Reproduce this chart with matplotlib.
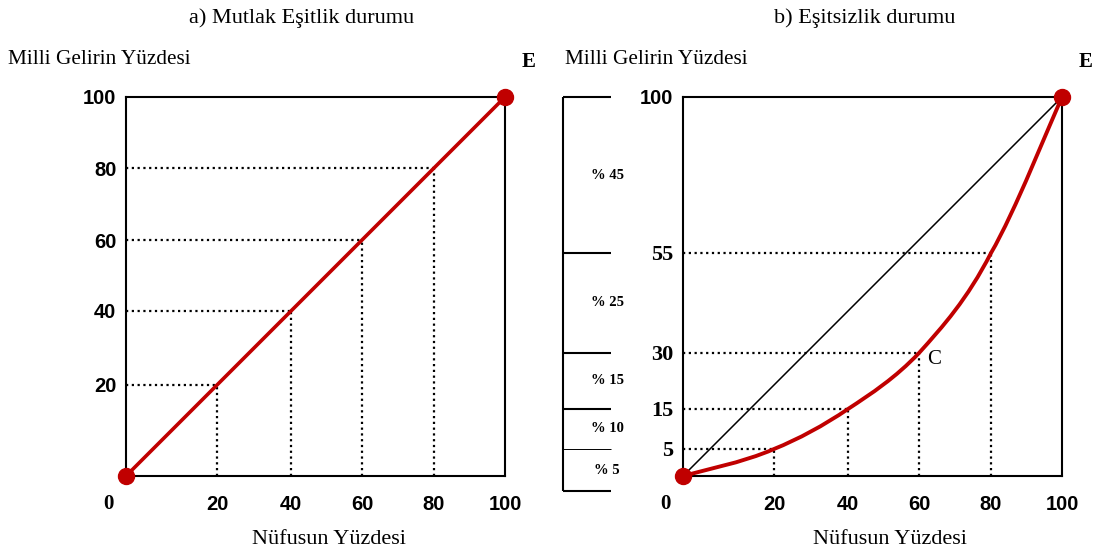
import numpy as np
import matplotlib.pyplot as plt
from matplotlib.path import Path
from matplotlib.patches import PathPatch

# data
population = [0, 20, 40, 60, 80, 100]
equal_income = [0, 20, 40, 60, 80, 100]
lorenz_income = [0, 5, 15, 30, 55, 100]
group_shares = [45, 25, 15, 10, 5]
share_labels = ["% 45", "% 25", "% 15", "% 10", "% 5"]

left_title = "a) Mutlak Eşitlik durumu"
right_title = "b) Eşitsizlik durumu"
y_title = "Milli Gelirin Yüzdesi"
x_title = "Nüfusun Yüzdesi"

RED = "#C00000"
SERIF = ["Liberation Serif", "DejaVu Serif"]
SANS = ["Liberation Sans", "DejaVu Sans"]
W, H = 1099, 557

# the source sketch is not drawn to scale: pixel offset (of 379) of each grid value
grid_px_pop = [0, 91, 165, 236, 308, 379]
grid_px_lorenz = [0, 27, 67, 123, 223, 379]
grid_px_bracket = [0, 42, 82, 138, 238, 394]

dotted = dict(color="black", lw=1.6, linestyle=(0, (1, 1.6)),
              dash_capstyle="butt", zorder=2)


def sketch_scale(values, px):
    values = np.asarray(values, float)
    px = np.asarray(px, float)
    return (lambda v: np.interp(v, values, px),
            lambda p: np.interp(p, px, values))


def fig_xy(x, y):
    return x / W, 1 - y / H


def smooth_path(xs, ys):
    # catmull-rom through the points, as cubic bezier segments
    pts = np.column_stack([xs, ys]).astype(float)
    ext = np.vstack([pts[0], pts, pts[-1]])
    verts = [pts[0]]
    codes = [Path.MOVETO]
    for i in range(len(pts) - 1):
        p0, p1, p2, p3 = ext[i], ext[i + 1], ext[i + 2], ext[i + 3]
        verts += [p1 + (p2 - p0) / 6, p2 - (p3 - p1) / 6, p2]
        codes += [Path.CURVE4] * 3
    return Path(verts, codes)


def setup_panel(ax, yvals, ypx, ylabels_fonts):
    ax.set_xscale("function", functions=sketch_scale(population, grid_px_pop))
    ax.set_yscale("function", functions=sketch_scale(yvals, ypx))
    ax.set_xlim(0, 100)
    ax.set_ylim(0, 100)
    for s in ax.spines.values():
        s.set_linewidth(1.5)
    ax.tick_params(length=0)
    ax.tick_params(axis="x", pad=14)
    ax.tick_params(axis="y", pad=7)
    ax.set_xticks(population[1:])
    ax.set_xticklabels([str(v) for v in population[1:]],
                       fontfamily=SANS, fontweight="bold", fontsize=14.5)
    ax.set_yticks(yvals[1:])
    ax.set_yticklabels([str(v) for v in yvals[1:]], fontweight="bold")
    for lab, fam in zip(ax.get_yticklabels(), ylabels_fonts):
        lab.set_fontfamily(fam)
        lab.set_fontsize(14.5 if fam is SANS else 16)
    # corner zero
    ax.annotate("0", (0, 0), xytext=(-18, -28), textcoords="offset pixels",
                ha="center", va="center", fontfamily=SERIF,
                fontweight="bold", fontsize=15, annotation_clip=False)
    ax.annotate("E", (100, 100), xytext=(24, 35), textcoords="offset pixels",
                ha="center", va="center", fontfamily=SERIF,
                fontweight="bold", fontsize=15, annotation_clip=False)


fig = plt.figure(figsize=(W / 100, H / 100), dpi=100)

# a) equality
ax1 = fig.add_axes([126 / W, (H - 476) / H, 379 / W, 379 / H])
setup_panel(ax1, equal_income, grid_px_pop, [SANS] * 5)
for x, y in zip(population[1:-1], equal_income[1:-1]):
    ax1.plot([0, x], [y, y], **dotted)
    ax1.plot([x, x], [0, y], **dotted)
ax1.plot(population, equal_income, color=RED, lw=2.6, zorder=3)
ax1.plot([population[0], population[-1]], [equal_income[0], equal_income[-1]],
         "o", color=RED, ms=11.5, clip_on=False, zorder=4)

# b) inequality
ax2 = fig.add_axes([683 / W, (H - 476) / H, 379 / W, 379 / H])
setup_panel(ax2, lorenz_income, grid_px_lorenz, [SERIF] * 4 + [SANS])
for x, y in zip(population[1:-1], lorenz_income[1:-1]):
    ax2.plot([0, x], [y, y], **dotted)
    ax2.plot([x, x], [0, y], **dotted)
ax2.plot([population[0], population[-1]], [equal_income[0], equal_income[-1]],
         color="black", lw=1.1, zorder=3)
ax2.add_patch(PathPatch(smooth_path(population, lorenz_income),
                        facecolor="none", edgecolor=RED, lw=2.8, zorder=3))
ax2.plot([population[0], population[-1]], [lorenz_income[0], lorenz_income[-1]],
         "o", color=RED, ms=11.5, clip_on=False, zorder=4)
ax2.annotate("C", (population[3], lorenz_income[3]), xytext=(15, -7),
             textcoords="offset pixels", ha="center", va="center",
             fontfamily=SERIF, fontsize=15)

# income share bracket
ax3 = fig.add_axes([563 / W, (H - 491) / H, 48 / W, 394 / H])
ax3.set_yscale("function", functions=sketch_scale(lorenz_income, grid_px_bracket))
ax3.set_xlim(0, 1)
ax3.set_ylim(0, 100)
ax3.axis("off")
bounds = 100 - np.concatenate([[0], np.cumsum(group_shares)])
ax3.plot([0, 0], [bounds[0], bounds[-1]], color="black", lw=1.5,
         clip_on=False, solid_capstyle="butt")
for b in bounds:
    lw = 0.7 if b == group_shares[-1] else 1.5
    ax3.plot([0, 1], [b, b], color="black", lw=lw, clip_on=False,
             solid_capstyle="butt")
for top, bot, lab in zip(bounds[:-1], bounds[1:], share_labels):
    ax3.text(0.92, (top + bot) / 2, lab, ha="center", va="center",
             fontfamily=SERIF, fontweight="bold", fontsize=10.5)

# titles and axis captions
fig.text(*fig_xy(302, 18), left_title, ha="center", va="center",
         fontfamily=SERIF, fontsize=16)
fig.text(*fig_xy(865, 18), right_title, ha="center", va="center",
         fontfamily=SERIF, fontsize=16)
fig.text(*fig_xy(8, 60), y_title, ha="left", va="center",
         fontfamily=SERIF, fontsize=15.3)
fig.text(*fig_xy(565, 60), y_title, ha="left", va="center",
         fontfamily=SERIF, fontsize=15.3)
fig.text(*fig_xy(329, 540), x_title, ha="center", va="center",
         fontfamily=SERIF, fontsize=16)
fig.text(*fig_xy(890, 540), x_title, ha="center", va="center",
         fontfamily=SERIF, fontsize=16)

fig.savefig("out.png", dpi=100)
